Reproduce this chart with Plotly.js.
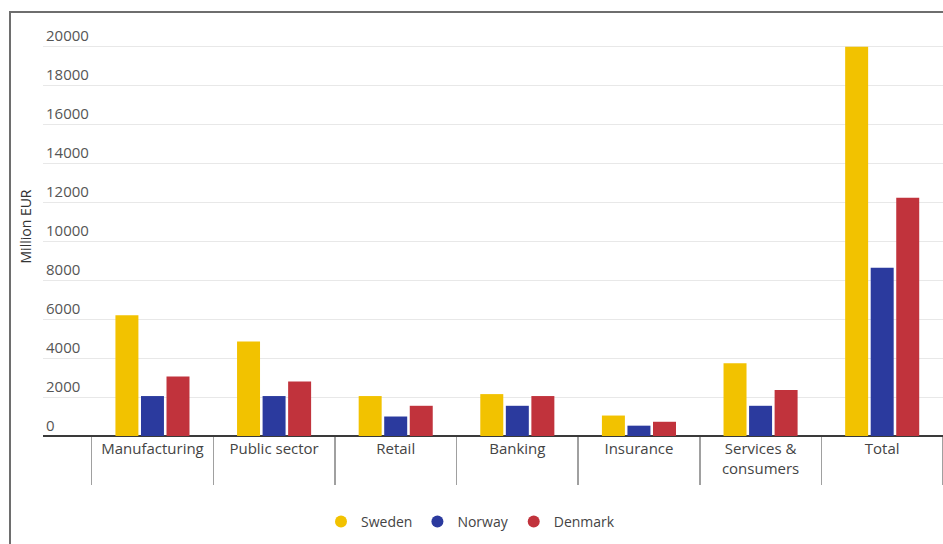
<!DOCTYPE html>
<html>
<head>
<meta charset="utf-8">
<script src="https://cdn.plot.ly/plotly-3.0.1.min.js"></script>
<style>
  html, body { margin: 0; padding: 0; background: #fff; }
  #wrap { position: relative; width: 943px; height: 544px; overflow: hidden; }
  #chart { width: 943px; height: 544px; }
  #frame { position: absolute; left: 9px; top: 11px; width: 960px; height: 560px;
           border-left: 2px solid #6e6e6e; border-top: 2px solid #6e6e6e; pointer-events: none; }
</style>
</head>
<body>
<div id="wrap">
  <div id="chart"></div>
  <div id="frame"></div>
</div>
<script>
const categories = ["Manufacturing", "Public sector", "Retail", "Banking", "Insurance", "Services &<br>consumers", "Total"];
const sweden  = [6200, 4850, 2050, 2150, 1050, 3730, 19970];
const norway  = [2050, 2050, 1000, 1550, 530, 1550, 8630];
const denmark = [3050, 2800, 1550, 2050, 730, 2360, 12220];
const seriesNames = ["Sweden", "Norway", "Denmark"];
const seriesColors = ["#f2c200", "#2b3a9e", "#c1333c"];
const yTicks = [0, 2000, 4000, 6000, 8000, 10000, 12000, 14000, 16000, 18000, 20000];

const seriesValues = [sweden, norway, denmark];
const traces = [];
seriesValues.forEach((vals, i) => {
  traces.push({
    type: "bar", x: categories, y: vals, name: seriesNames[i],
    marker: { color: seriesColors[i] }, showlegend: false, legendgroup: seriesNames[i],
    hoverinfo: "x+y+name"
  });
});
seriesValues.forEach((vals, i) => {
  traces.push({
    type: "scatter", mode: "markers", x: [null], y: [null], name: seriesNames[i],
    marker: { color: seriesColors[i], size: 15, symbol: "circle" },
    legendgroup: seriesNames[i], showlegend: true
  });
});

const n = categories.length;
const layout = {
  width: 943, height: 544,
  margin: { l: 43, r: 0, t: 17, b: 108 },
  paper_bgcolor: "#ffffff", plot_bgcolor: "#ffffff",
  font: { family: "Open Sans, sans-serif", size: 14, color: "#444" },
  barmode: "group", bargap: 0.37, bargroupgap: 0.1,
  showlegend: true,
  legend: { orientation: "h", x: 0.475, xanchor: "center", y: -0.205, yanchor: "middle",
            font: { size: 14, color: "#444" }, itemsizing: "constant", traceorder: "normal" },
  xaxis: {
    type: "category", range: [-0.9, n - 0.5], fixedrange: true,
    showgrid: false, zeroline: false, showline: false,
    ticks: "outside", tickson: "boundaries", ticklen: 48, tickcolor: "#a0a0a0", tickwidth: 1.5,
    ticklabelstandoff: 2,
    tickfont: { size: 15, color: "#444" }
  },
  yaxis: {
    range: [0, 21500], tickvals: yTicks, ticktext: yTicks.map(String),
    ticklabelposition: "inside top", tickfont: { size: 15, color: "#555" },
    showgrid: true, gridcolor: "#e8e8e8", gridwidth: 1,
    zeroline: true, zerolinecolor: "#3a3a3a", zerolinewidth: 2,
    showline: false, ticks: "",
    title: { text: "Million EUR", font: { size: 14, color: "#333" }, standoff: 11 }
  }
};

Plotly.newPlot("chart", traces, layout, { displayModeBar: false, staticPlot: true });
</script>
</body>
</html>
